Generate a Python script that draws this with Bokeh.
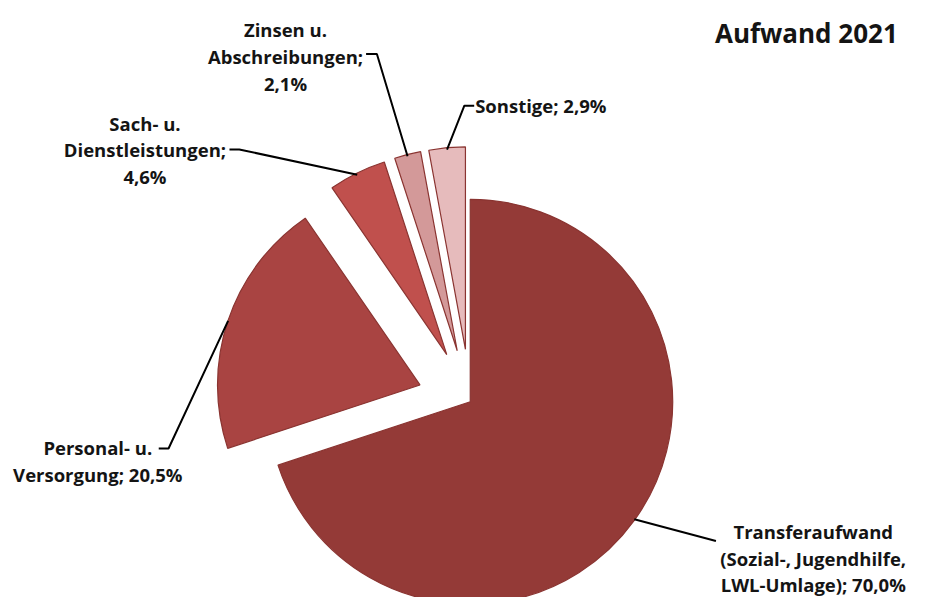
import numpy as np
from bokeh.plotting import figure
from bokeh.models import Range1d, ColumnDataSource
from bokeh.core.properties import value
from bokeh.embed import file_html
from bokeh.resources import INLINE

# ---- data ----
categories = ["Transferaufwand (Sozial-, Jugendhilfe, LWL-Umlage)",
              "Personal- u. Versorgung",
              "Sach- u. Dienstleistungen",
              "Zinsen u. Abschreibungen",
              "Sonstige"]
shares = [70.0, 20.5, 4.6, 2.1, 2.9]
label_templates = [["Transferaufwand", "(Sozial-, Jugendhilfe,", "LWL-Umlage); {pct}"],
                   ["Personal- u.", "Versorgung; {pct}"],
                   ["Sach- u.", "Dienstleistungen;", "{pct}"],
                   ["Zinsen u.", "Abschreibungen;", "{pct}"],
                   ["Sonstige; {pct}"]]
title_text = "Aufwand 2021"

# ---- style / layout ----
colors = ["#943A37", "#A94442", "#C0504D", "#D39999", "#E6BBBC"]
explode = [0, 54, 54, 54, 54]
W, H = 912, 597          # figure size in pixels
RW, RH = 928, 613        # layout designed in a 928x613 frame


def X(px):
    return px


def Y(py):
    return RH - py


cx0, cy0 = X(478), Y(412)
R = 206

# label layout: (x, first baseline (frame px), align)
label_pos = [(827, 545, "center"), (99, 459, "center"), (147, 126, "center"),
             (290, 30, "center"), (483, 108, "left")]
line_gap = 27.5
# leader-line anchor points near the labels (frame px)
leader_anchor = [[(728, 555)], [(171, 460), (161, 460)], [(243, 153), (233, 153)],
                 [(383, 55), (372, 55)], [(472, 108), (482, 108)]]

vals = np.array(shares, dtype=float)
frac = vals / vals.sum()
cum_after = np.cumsum(frac) * 360.0
cum_before = cum_after - frac * 360.0
mid = np.radians((cum_before + cum_after) / 2)
start = np.radians(90 - cum_after)
end = np.radians(90 - cum_before)
dx, dy = np.sin(mid), np.cos(mid)
ex = np.array(explode, dtype=float)
xs = cx0 + ex * dx
ys = cy0 + ex * dy

src = ColumnDataSource(dict(x=xs, y=ys, start=start, end=end, color=colors, cat=categories))

p = figure(width=W, height=H, x_range=Range1d(0, RW), y_range=Range1d(0, RH),
           output_backend="svg", toolbar_location=None, min_border=0,
           x_axis_type=None, y_axis_type=None)
p.grid.visible = False
p.outline_line_color = None
p.background_fill_color = "white"
p.border_fill_color = "white"

p.wedge(x="x", y="y", radius=R, start_angle="start", end_angle="end",
        fill_color="color", line_color="#8A3431", line_width=1.2, source=src)

# leader lines
for i in range(len(shares)):
    px = [xs[i] + R * dx[i]] + [X(a) for a, b in leader_anchor[i]]
    py = [ys[i] + R * dy[i]] + [Y(b) for a, b in leader_anchor[i]]
    p.line(px, py, line_color="black", line_width=2)

# labels
FONT = value("Open Sans")
for i, lines in enumerate(label_templates):
    pct = ("%.1f" % shares[i]).replace(".", ",") + "%"
    lx, ly, al = label_pos[i]
    for k, t in enumerate(lines):
        p.text(x=[X(lx)], y=[Y(ly + k * line_gap)], text=[t.format(pct=pct)],
               text_font=FONT, text_font_style="bold", text_font_size="18.5px",
               text_align=al, text_baseline="alphabetic", text_color="#141414")

p.text(x=[X(913)], y=[Y(33)], text=[title_text], text_font=FONT,
       text_font_style="bold", text_font_size="26px", text_align="right",
       text_baseline="alphabetic", text_color="#141414")

open("out.html", "w").write(file_html(p, INLINE))
